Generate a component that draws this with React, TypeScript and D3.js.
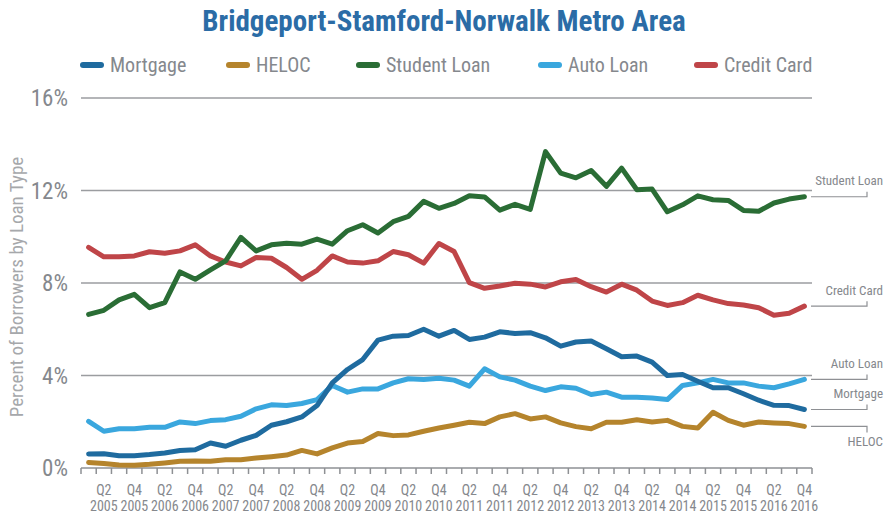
import React from "react";
import * as d3 from "d3";

const years = [2005, 2006, 2007, 2008, 2009, 2010, 2011, 2012, 2013, 2014, 2015, 2016];
const quarterNames = ["Q1", "Q2", "Q3", "Q4"];
const quarters = years.flatMap(y => quarterNames.map(q => `${q} ${y}`));
const yTicks = [0, 4, 8, 12, 16];

const mortgage = [0.61, 0.62, 0.53, 0.53, 0.58, 0.65, 0.76, 0.79, 1.08, 0.94, 1.2, 1.41, 1.85, 2.0, 2.21, 2.7, 3.68, 4.26, 4.69, 5.53, 5.7, 5.73, 6.0, 5.7, 5.95, 5.56, 5.66, 5.89, 5.82, 5.85, 5.63, 5.27, 5.45, 5.49, 5.16, 4.81, 4.84, 4.58, 4.0, 4.04, 3.75, 3.47, 3.47, 3.21, 2.93, 2.71, 2.7, 2.53];
const heloc = [0.24, 0.19, 0.13, 0.12, 0.16, 0.22, 0.29, 0.3, 0.29, 0.36, 0.36, 0.43, 0.49, 0.56, 0.76, 0.61, 0.87, 1.08, 1.15, 1.49, 1.4, 1.43, 1.59, 1.73, 1.85, 1.98, 1.92, 2.21, 2.35, 2.12, 2.21, 1.95, 1.79, 1.7, 1.98, 1.98, 2.09, 1.99, 2.06, 1.8, 1.73, 2.41, 2.06, 1.85, 1.99, 1.95, 1.92, 1.8];
const studentLoan = [6.64, 6.82, 7.27, 7.51, 6.93, 7.15, 8.48, 8.16, 8.57, 8.96, 9.97, 9.39, 9.65, 9.72, 9.68, 9.9, 9.68, 10.26, 10.52, 10.16, 10.65, 10.88, 11.53, 11.23, 11.44, 11.77, 11.72, 11.15, 11.4, 11.18, 13.68, 12.75, 12.55, 12.86, 12.18, 12.97, 12.03, 12.06, 11.08, 11.38, 11.77, 11.6, 11.57, 11.14, 11.1, 11.46, 11.63, 11.73];
const autoLoan = [2.02, 1.59, 1.7, 1.7, 1.76, 1.76, 1.99, 1.92, 2.05, 2.09, 2.24, 2.56, 2.73, 2.7, 2.79, 2.96, 3.57, 3.28, 3.42, 3.42, 3.68, 3.86, 3.83, 3.88, 3.8, 3.54, 4.29, 3.94, 3.8, 3.54, 3.35, 3.51, 3.45, 3.18, 3.28, 3.06, 3.06, 3.03, 2.96, 3.57, 3.68, 3.83, 3.68, 3.68, 3.54, 3.47, 3.64, 3.83];
const creditCard = [9.54, 9.13, 9.14, 9.17, 9.35, 9.29, 9.39, 9.65, 9.17, 8.91, 8.74, 9.1, 9.07, 8.67, 8.16, 8.55, 9.17, 8.91, 8.86, 8.96, 9.36, 9.22, 8.86, 9.71, 9.36, 8.02, 7.77, 7.87, 7.99, 7.95, 7.83, 8.05, 8.15, 7.84, 7.61, 7.95, 7.69, 7.22, 7.03, 7.15, 7.47, 7.27, 7.11, 7.05, 6.93, 6.61, 6.69, 7.0];

const series = [
  { name: "Mortgage", values: mortgage, color: "#1f6b9f", legendX: 81, below: false },
  { name: "HELOC", values: heloc, color: "#b5842c", legendX: 227, below: true },
  { name: "Student Loan", values: studentLoan, color: "#2a6d35", legendX: 357, below: false },
  { name: "Auto Loan", values: autoLoan, color: "#3aa7de", legendX: 539, below: false },
  { name: "Credit Card", values: creditCard, color: "#bf4548", legendX: 695, below: false }
];
// drawing order (back to front)
const drawOrder = ["Credit Card", "Student Loan", "HELOC", "Auto Loan", "Mortgage"];

const W = 885;
const H = 517;
const left = 81;
const right = 812;
const top = 98;
const bottom = 468;
const font = "'Roboto Condensed', 'Liberation Sans Narrow', 'Arial Narrow', Roboto, sans-serif";
const grey = "#85888d";

const App = () => {
  const x = d3.scaleBand().domain(quarters).range([left, right]);
  const y = d3.scaleLinear().domain([0, 16]).range([bottom, top]);
  const cx = (q: string) => (x(q) as number) + x.bandwidth() / 2;
  const line = d3
    .line<number>()
    .x((_, i) => cx(quarters[i]))
    .y(v => y(v));

  const tickXs = quarters.map(q => x(q) as number).concat([right]);
  const labelled = quarters.filter((_, i) => i % 2 === 1);

  return (
    <svg width={W} height={H} style={{ position: "absolute", left: 0, top: 0, background: "#fff" }} fontFamily={font}>
      <text x={444} y={31} textAnchor="middle" fontSize={29} fontWeight="bold" fill="#2b6ca6">
        Bridgeport-Stamford-Norwalk Metro Area
      </text>

      {series.map(s => (
        <g key={s.name}>
          <line x1={s.legendX + 2} x2={s.legendX + 20} y1={65} y2={65} stroke={s.color} strokeWidth={6} strokeLinecap="round" />
          <text x={s.legendX + 29} y={65} dy="0.35em" fontSize={20} fill={grey}>
            {s.name}
          </text>
        </g>
      ))}

      {yTicks.map(t => (
        <g key={t}>
          {t > 0 && <line x1={left} x2={right} y1={y(t)} y2={y(t)} stroke="#9b9da0" strokeWidth={1.5} />}
          <text x={68} y={y(t)} dy="0.35em" textAnchor="end" fontSize={23} fill={grey}>
            {t}%
          </text>
        </g>
      ))}

      <text
        transform={`translate(16,${(top + bottom) / 2 + 4}) rotate(-90)`}
        textAnchor="middle"
        dy="0.35em"
        fontSize={19}
        fill="#a6a8ab"
      >
        Percent of Borrowers by Loan Type
      </text>

      <line x1={left} x2={right} y1={bottom} y2={bottom} stroke="#8e9094" strokeWidth={1.5} />
      {tickXs.map((tx, i) => (
        <line key={i} x1={tx} x2={tx} y1={bottom} y2={bottom + 6} stroke="#8e9094" strokeWidth={1.5} />
      ))}
      {labelled.map(q => {
        const [qq, yy] = q.split(" ");
        return (
          <text key={q} x={cx(q)} textAnchor="middle" fontSize={14} fill={grey}>
            <tspan x={cx(q)} y={495}>{qq}</tspan>
            <tspan x={cx(q)} y={511}>{yy}</tspan>
          </text>
        );
      })}

      {drawOrder.map(n => {
        const s = series.find(d => d.name === n)!;
        return (
          <path
            key={n}
            d={line(s.values) as string}
            fill="none"
            stroke={s.color}
            strokeWidth={5}
            strokeLinejoin="round"
            strokeLinecap="round"
          />
        );
      })}

      {series.map(s => {
        const ly = y(s.values[s.values.length - 1]);
        const tickEnd = s.below ? ly + 6 : ly - 5;
        return (
          <g key={s.name}>
            <polyline
              points={`${right - 1},${ly} 867,${ly} 867,${tickEnd}`}
              fill="none"
              stroke="#8e9094"
              strokeWidth={1.2}
            />
            <text x={883} y={s.below ? ly + 15 : ly - 16} dy="0.35em" textAnchor="end" fontSize={13} fill={grey}>
              {s.name}
            </text>
          </g>
        );
      })}
    </svg>
  );
};

export default App;
